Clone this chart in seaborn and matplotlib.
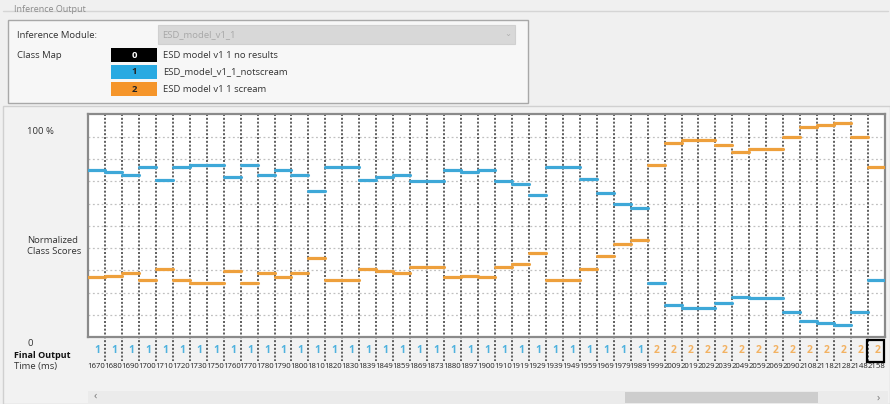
import numpy as np
import pandas as pd
import seaborn as sns
import matplotlib.pyplot as plt
from matplotlib.patches import Rectangle

# Class scores per frame (percent)
notscream = [75.0, 74.1, 72.9, 76.2, 70.7, 76.2, 77.1, 77.1, 72.0, 77.1,
             72.9, 75.0, 72.9, 65.7, 76.2, 76.2, 70.7, 72.0, 72.9, 69.9,
             69.9, 75.0, 74.1, 75.0, 69.9, 68.7, 63.8, 76.2, 76.2, 70.8,
             64.6, 59.6, 58.0, 24.3, 14.3, 13.3, 13.3, 15.2, 18.2, 17.5,
             17.5, 11.2, 7.5, 6.3, 5.4, 11.2, 25.6]
scream = [26.9, 27.4, 28.7, 25.6, 30.6, 25.6, 24.3, 24.3, 29.7, 24.3,
          28.7, 26.9, 28.7, 35.4, 25.6, 25.6, 30.6, 29.7, 28.7, 31.5,
          31.5, 26.9, 27.4, 26.9, 31.4, 32.7, 37.7, 25.6, 25.6, 30.6,
          36.5, 41.8, 43.6, 77.1, 87.0, 88.5, 88.5, 86.2, 83.2, 84.3,
          84.3, 90.0, 94.2, 95.2, 96.0, 90.0, 76.2]
final_output = [1, 1, 1, 1, 1, 1, 1, 1, 1, 1, 1, 1, 1, 1, 1, 1, 1, 1, 1, 1,
                1, 1, 1, 1, 1, 1, 1, 1, 1, 1, 1, 1, 1, 2, 2, 2, 2, 2, 2, 2,
                2, 2, 2, 2, 2, 2, 2]
time_ms = ['1670', '1680', '1690', '1700', '1710', '1720', '1730', '1750', '1760', '1770',
           '1780', '1790', '1800', '1810', '1820', '1830', '1839', '1849', '1859', '1869',
           '1873', '1880', '1897', '1900', '1910', '1919', '1929', '1939', '1949', '1959',
           '1969', '1979', '1989', '1999', '2009', '2019', '2029', '2039', '2049', '2059',
           '2069', '2090', '2108', '2118', '2128', '2148', '2158']
class_ids = ['0', '1', '2']
class_names = ['ESD model v1 1 no results', 'ESD_model_v1_1_notscream', 'ESD model v1 1 scream']

BLACK = '#000000'
BLUE = '#3ea8d8'
ORANGE = '#eea03c'
swatch_colors = [BLACK, '#29aae2', '#f5952a']

W, H = 890, 404


def fx(x):
    return x / W


def fy(y):
    return 1 - y / H


def main():
    sns.set_style('white')
    plt.rcParams['font.family'] = ['Open Sans', 'DejaVu Sans']

    fig = plt.figure(figsize=(8.9, 4.04), dpi=100, facecolor='#f0f0f0')

    # group box + inner panel (upper part)
    fig.add_artist(plt.Line2D([fx(3), fx(888)], [fy(11), fy(11)], color='#d5d5d5', lw=1,
                              zorder=-6))
    fig.text(fx(14), fy(9), 'Inference Output', fontsize=6.5, color='#8a8a8a', va='center')
    fig.add_artist(Rectangle((fx(8), fy(103)), fx(520), 83 / H, facecolor='#f7f7f7',
                             edgecolor='#a8a8a8', lw=1, zorder=-5))
    fig.text(fx(17), fy(35), 'Inference Module:', fontsize=6.8, color='#333333', va='center')
    fig.add_artist(Rectangle((fx(158), fy(44)), fx(357), 19 / H, facecolor='#d8d8d8',
                             edgecolor='#d0d0d0', lw=0.8, zorder=-4))
    fig.text(fx(162), fy(35), 'ESD_model_v1_1', fontsize=6.8, color='#a8a8a8', va='center')
    fig.text(fx(508), fy(34), '⌄', fontsize=6, color='#b0b0b0', va='center', ha='center')
    fig.text(fx(17), fy(55), 'Class Map', fontsize=6.8, color='#333333', va='center')
    for i, (cid, name, col) in enumerate(zip(class_ids, class_names, swatch_colors)):
        ytop = 48 + i * 17
        fig.add_artist(Rectangle((fx(111), fy(ytop + 14)), fx(46), 14 / H,
                                 facecolor=col, edgecolor='none', zorder=-4))
        fig.text(fx(134), fy(ytop + 7), cid, fontsize=6.8, weight='bold',
                 color='white' if i == 0 else '#222222', ha='center', va='center')
        fig.text(fx(163), fy(ytop + 7), name, fontsize=6.8, color='#333333', va='center')

    # lower panel
    fig.add_artist(Rectangle((fx(3), 0), fx(887), fy(106), facecolor='#f2f2f2',
                             edgecolor='#d0d0d0', lw=1, zorder=-6))

    ax = fig.add_axes([fx(88), fy(337.3), fx(885 - 88), 223 / H])
    ax.set_facecolor('white')
    n = len(notscream)
    ax.set_xlim(0, n)
    ax.set_ylim(0, 100)

    # horizontal grid
    for g in range(10, 100, 10):
        ax.axhline(g, color='#c0c0c0', lw=0.9, ls=(0, (1.5, 2.0)), zorder=1)
    # vertical column separators running down through the output row
    for k in range(1, n):
        ax.plot([k, k], [100, -10.5], color='#444444', lw=1.2, ls=(0, (1.2, 1.1)),
                clip_on=False, zorder=2)

    rows = []
    for k in range(n):
        for cls, vals in (('notscream', notscream), ('scream', scream)):
            rows.append({'seg': f'{cls}{k}', 'x': k, 'score': vals[k], 'cls': cls})
            rows.append({'seg': f'{cls}{k}', 'x': k + 1, 'score': vals[k], 'cls': cls})
    df = pd.DataFrame(rows)
    sns.lineplot(data=df, x='x', y='score', hue='cls', units='seg', estimator=None,
                 palette={'notscream': BLUE, 'scream': ORANGE}, lw=2.3,
                 legend=False, ax=ax, zorder=3)

    ax.set_xticks([])
    ax.set_yticks([])
    ax.set_xlabel('')
    ax.set_ylabel('')
    for s in ax.spines.values():
        s.set_color('#8a8a8a')
        s.set_linewidth(1.6)

    # final output row and time labels
    for k, (cls, t) in enumerate(zip(final_output, time_ms)):
        ax.text(k + 0.55, -5.8, str(cls), fontsize=7.5, weight='bold',
                color='#4fb2de' if cls == 1 else '#f2b262', ha='center', va='center',
                clip_on=False)
        ax.text(k - 0.05, -13.3, t, fontsize=5.6, color='#222222', ha='left', va='center',
                clip_on=False)
    ax.add_patch(Rectangle((n - 1.05, -11.2), 1.0, 10.0, fill=False, edgecolor='black',
                           lw=1.6, clip_on=False, zorder=5))

    # left hand labels
    fig.text(fx(27), fy(131), '100 %', fontsize=6.8, color='#333333', va='center')
    fig.text(fx(27), fy(246), 'Normalized\nClass Scores', fontsize=6.8, color='#333333',
             va='center', linespacing=1.2)
    fig.text(fx(27), fy(343), '0', fontsize=6.8, color='#333333', va='center')
    fig.text(fx(14), fy(355), 'Final Output', fontsize=6.5, weight='bold', color='#111111',
             va='center')
    fig.text(fx(14), fy(367), 'Time (ms)', fontsize=6.8, color='#333333', va='center')

    # scrollbar
    fig.add_artist(Rectangle((fx(88), 0), fx(800), 13 / H, facecolor='#ebebeb',
                             edgecolor='none', zorder=-4))
    fig.add_artist(Rectangle((fx(625), fy(403)), fx(193), 11 / H, facecolor='#cdcdcd',
                             edgecolor='none', zorder=-3))
    fig.text(fx(95), fy(396), '‹', fontsize=8, color='#777777', ha='center', va='center')
    fig.text(fx(878), fy(398), '›', fontsize=8, color='#777777', ha='center', va='center')

    fig.savefig('out.png', dpi=100, facecolor=fig.get_facecolor())
    plt.close(fig)


if __name__ == '__main__':
    main()
